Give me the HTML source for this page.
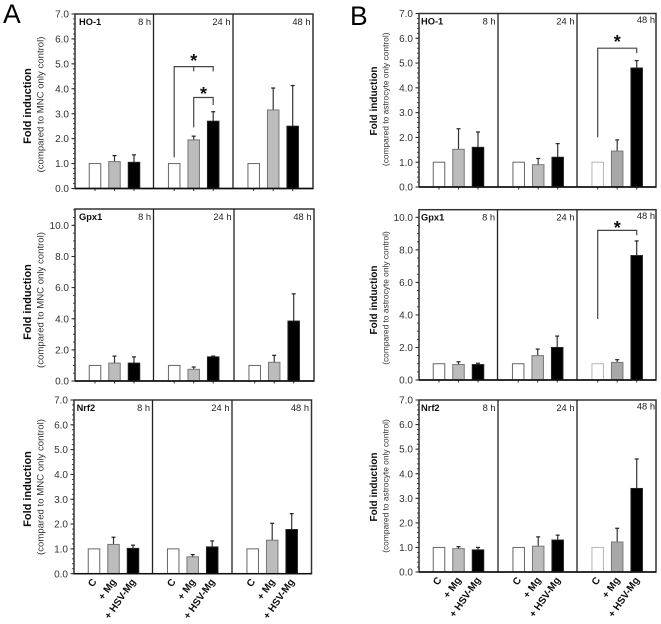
<!DOCTYPE html>
<html lang="en">
<head>
<meta charset="utf-8">
<title>Fold induction of HO-1, Gpx1 and Nrf2</title>
<style>
html,body{margin:0;padding:0;background:#fff;width:661px;height:624px;overflow:hidden}
svg{display:block;font-family:"Liberation Sans",Arial,sans-serif}
</style>
</head>
<body>
<svg id="chart" xmlns="http://www.w3.org/2000/svg" width="661" height="624" viewBox="0 0 661 624">
<defs><filter id="soft" x="-2%" y="-2%" width="104%" height="104%"><feGaussianBlur stdDeviation="0.3"/></filter></defs>
<g id="root" filter="url(#soft)"></g>
</svg>
<script>
// ---- Data ----
const timepoints = ['8 h', '24 h', '48 h'];
const treatments = ['C', '+ Mg', '+ HSV-Mg'];
const yTicks7 = [0, 1, 2, 3, 4, 5, 6, 7];
const yTicks10 = [0, 2, 4, 6, 8, 10];

const ho1AMeans = [1, 1.08, 1.05, 1, 1.95, 2.7, 1, 3.15, 2.5];
const ho1AUpper = [null, 1.32, 1.35, null, 2.1, 3.08, null, 4.03, 4.13];
const gpx1AMeans = [1, 1.15, 1.15, 1, 0.75, 1.55, 1, 1.2, 3.85];
const gpx1AUpper = [null, 1.6, 1.55, null, 0.9, 1.6, null, 1.65, 5.6];
const nrf2AMeans = [1, 1.18, 1.02, 1, 0.68, 1.08, 1, 1.35, 1.78];
const nrf2AUpper = [null, 1.47, 1.15, null, 0.77, 1.32, null, 2.03, 2.42];

const ho1BMeans = [1, 1.52, 1.6, 1, 0.9, 1.2, 1, 1.45, 4.8];
const ho1BUpper = [null, 2.35, 2.22, null, 1.15, 1.75, null, 1.9, 5.1];
const gpx1BMeans = [1, 0.95, 0.95, 1, 1.5, 2, 1, 1.08, 7.65];
const gpx1BUpper = [null, 1.12, 1.03, null, 1.9, 2.7, null, 1.25, 8.55];
const nrf2BMeans = [1, 0.95, 0.9, 1, 1.05, 1.3, 1, 1.22, 3.4];
const nrf2BUpper = [null, 1.03, 1, null, 1.43, 1.5, null, 1.78, 4.6];

// ---- Significance brackets: [from bar index, to bar index, start value, top value, end value, star value] ----
const ho1ABrackets = [[3, 5, 1.25, 4.89, 4.7, 5.19], [4, 5, 2.45, 3.65, 3.35, 3.87]];
const ho1BBrackets = [[6, 8, 2.0, 5.6, 5.4, 5.93]];
const gpx1BBrackets = [[6, 8, 3.75, 9.2, 8.9, 9.47]];

// ---- Layout ----
const subA = '(compared to MNC only control)';
const subB = '(compared to astrocyte only control)';
const panels = [
  {id:'ho1-a', gene:'HO-1', means:ho1AMeans, upper:ho1AUpper, brackets:ho1ABrackets, left:75, right:313, top:14, bottom:188.5, dividers:[153.5,233], yMax:7, ticks:yTicks7, minor:0.2, sub:subA, foldX:31, subX:43.5, foldY:106, subY:104.5, foldSize:11, subSize:9.6, geneDx:4, side:'a', xLabels:false},
  {id:'gpx1-a', gene:'Gpx1', means:gpx1AMeans, upper:gpx1AUpper, brackets:[], left:75, right:314, top:209, bottom:381, dividers:[153.5,234], yMax:11.05, ticks:yTicks10, minor:0.5, sub:subA, foldX:31, subX:43.5, foldY:302, subY:300, foldSize:11, subSize:9.6, geneDx:4, side:'a', xLabels:false},
  {id:'nrf2-a', gene:'Nrf2', means:nrf2AMeans, upper:nrf2AUpper, brackets:[], left:74, right:311.5, top:400, bottom:573.7, dividers:[152.5,232], yMax:7, ticks:yTicks7, minor:0.2, sub:subA, foldX:31, subX:43.5, foldY:489, subY:487, foldSize:11, subSize:9.6, geneDx:2.6, side:'a', xLabels:true},
  {id:'ho1-b', gene:'HO-1', means:ho1BMeans, upper:ho1BUpper, brackets:ho1BBrackets, left:419, right:656, top:13.5, bottom:187, dividers:[498,577], yMax:7, ticks:yTicks7, minor:0.2, sub:subB, foldX:377, subX:388.5, foldY:101, subY:99.3, foldSize:10, subSize:8.4, geneDx:2, side:'b', xLabels:false},
  {id:'gpx1-b', gene:'Gpx1', means:gpx1BMeans, upper:gpx1BUpper, brackets:gpx1BBrackets, left:419, right:656, top:209.7, bottom:380, dividers:[497.5,577], yMax:10.47, ticks:yTicks10, minor:0.5, sub:subB, foldX:377, subX:388.5, foldY:300, subY:298, foldSize:10, subSize:8.4, geneDx:2, side:'b', xLabels:false},
  {id:'nrf2-b', gene:'Nrf2', means:nrf2BMeans, upper:nrf2BUpper, brackets:[], left:419, right:656, top:400, bottom:572, dividers:[498,577], yMax:7, ticks:yTicks7, minor:0.2, sub:subB, foldX:377, subX:388.5, foldY:487, subY:486, foldSize:10, subSize:8.4, geneDx:2, side:'b', xLabels:true}
];

const NS = 'http://www.w3.org/2000/svg';
const root = document.getElementById('root');

function make(tag, attrs, parent, text) {
  const el = document.createElementNS(NS, tag);
  for (const k in attrs) el.setAttribute(k, attrs[k]);
  if (text !== undefined) el.textContent = text;
  parent.appendChild(el);
  return el;
}
function yScale(p, v) { return p.bottom - (v / p.yMax) * (p.bottom - p.top); }
function groupLeft(p, g) { return g === 0 ? p.left : p.dividers[g - 1]; }
function xCenter(p, index) {
  const g = Math.floor(index / 3), b = index % 3;
  return groupLeft(p, g) + (g === 0 ? 20 : 20.7) + 19.5 * b;
}

panels.forEach(function (p) {
  const g = make('g', {}, root);
  
  

  // y-axis titles
  const fold = make('text', {transform:'translate(' + p.foldX + ' ' + p.foldY + ') rotate(-90)', 'text-anchor':'middle', 'font-size':p.foldSize, 'font-weight':'bold', fill:'#111'}, g, 'Fold induction');
  
  
  const sub = make('text', {transform:'translate(' + p.subX + ' ' + p.subY + ') rotate(-90)', 'text-anchor':'middle', 'font-size':p.subSize, fill:'#333'}, g, p.sub);
  
  

  // minor y ticks
  const minorCount = Math.floor(p.yMax / p.minor + 1e-6);
  for (let i = 0; i <= minorCount; i++) {
    const y = yScale(p, i * p.minor);
    const mt = make('line', {x1:p.left - 2, x2:p.left, y1:y, y2:y, stroke:'#333', 'stroke-width':0.9}, g);
    
    
  }
  // major y ticks and labels
  p.ticks.forEach(function (t) {
    const y = yScale(p, t);
    const tk = make('line', {x1:p.left - 3.5, x2:p.left, y1:y, y2:y, stroke:'#222', 'stroke-width':1}, g);
    
    
    const lb = make('text', {x:p.left - 6, y:y + 3.6, 'text-anchor':'end', 'font-size':'10', fill:'#333'}, g, t.toFixed(1));
    
    
  });

  // bars and error bars
  p.means.forEach(function (m, i) {
    const b = i % 3, grp = Math.floor(i / 3);
    const faded = p.side === 'b' && grp === 2;
    const cx = xCenter(p, i), w = 11.5;
    const y = yScale(p, m);
    if (p.upper[i] !== null) {
      const yu = yScale(p, p.upper[i]);
      const eb = make('line', {x1:cx, x2:cx, y1:y, y2:yu, stroke:'#333', 'stroke-width':1.2}, g);
      
      
      const cap = make('line', {x1:cx - 2, x2:cx + 2, y1:yu, y2:yu, stroke:'#222', 'stroke-width':1.2}, g);
      
      
    }
    const fills = ['#fff', faded ? '#a8a8a8' : '#bcbcbc', '#000'];
    const strokes = [faded ? '#b5b5b5' : '#666', '#777', '#222'];
    const r = make('rect', {x:cx - w / 2, y:y, width:w, height:p.bottom - y, fill:fills[b], stroke:strokes[b], 'stroke-width':1}, g);
    
    
    if (!p.xLabels) {
      const xt = make('line', {x1:cx, x2:cx, y1:p.bottom, y2:p.bottom + 2.5, stroke:'#333', 'stroke-width':1}, g);
      
      
    } else {
      const xl = make('text', {transform:'translate(' + (cx + 3) + ' ' + (p.bottom + 8) + ') rotate(-55)', 'text-anchor':'end', 'font-size':'10', 'font-weight':'bold', fill:'#111'}, g, treatments[b]);
      
      
    }
  });

  // frame
  const frame = make('rect', {x:p.left, y:p.top, width:p.right - p.left, height:p.bottom - p.top, fill:'none', stroke:'#333', 'stroke-width':1.5}, g);
  
  
  p.dividers.forEach(function (d) {
    const dv = make('line', {x1:d, x2:d, y1:p.top, y2:p.bottom, stroke:'#222', 'stroke-width':1.3}, g);
    
    
  });
  const base = make('line', {x1:p.left, x2:p.right, y1:p.bottom, y2:p.bottom, stroke:'#111', 'stroke-width':1.4}, g);
  
  

  // gene and time labels
  const gl = make('text', {x:p.left + p.geneDx, y:p.top + 11, 'font-size':'9.3', 'font-weight':'bold', fill:'#111'}, g, p.gene);
  
  
  timepoints.forEach(function (t, i) {
    const edge = i < 2 ? p.dividers[i] : p.right;
    const lastB = p.side === 'b' && i === 2;
    const tl = make('text', {x:edge - (lastB ? 1 : 2.5), y:p.top + (lastB ? 9.5 : 11), 'text-anchor':'end', 'font-size':'9.3', fill:'#222'}, g, t);
    
    
  });

  // significance brackets
  p.brackets.forEach(function (br) {
    const x1 = xCenter(p, br[0]), x2 = xCenter(p, br[1]);
    const yS = yScale(p, br[2]), yT = yScale(p, br[3]), yE = yScale(p, br[4]);
    const path = make('path', {d:'M' + x1 + ' ' + yS + 'V' + yT + 'H' + x2 + 'V' + yE, fill:'none', stroke:'#444', 'stroke-width':1.2}, g);
    
    
    const star = make('text', {x:(x1 + x2) / 2, y:yScale(p, br[5]) + 8, 'text-anchor':'middle', 'font-size':'18', 'font-weight':'bold', fill:'#111'}, g, '*');
    
    
  });
});

// middle tick in the upper bracket of HO-1 panel A
const hoA = panels[0];
const midTick = make('line', {x1:xCenter(hoA, 4), x2:xCenter(hoA, 4), y1:yScale(hoA, 4.89), y2:yScale(hoA, 4.7), stroke:'#444', 'stroke-width':1.2}, root);



const letterA = make('text', {x:3, y:23, 'font-size':'26.5', fill:'#000'}, root, 'A');


const letterB = make('text', {x:350, y:25, 'font-size':'26.5', fill:'#000'}, root, 'B');


</script>
</body>
</html>
